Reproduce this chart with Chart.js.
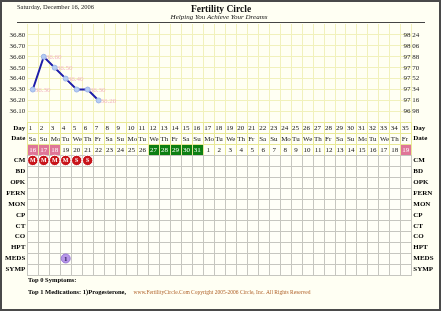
<!DOCTYPE html>
<html lang="en">
<head>
    <meta charset="UTF-8">
    <title>Fertility Circle</title>
    <!-- Include Chart.js -->
    <script src="https://cdn.jsdelivr.net/npm/chart.js"></script>
    <style>
        html, body { margin: 0; padding: 0; background: #fffff3; }
        canvas { display: block; }
    </style>
</head>
<body>
    <canvas id="bbtChart" width="441" height="311"></canvas>

    <script>
        // cycle days, weekdays and calendar dates
        const days = ['1','2','3','4','5','6','7','8','9','10','11','12','13','14','15','16','17','18',
                      '19','20','21','22','23','24','25','26','27','28','29','30','31','32','33','34','35'];
        const weekdays = ['Sa','Su','Mo','Tu','We','Th','Fr','Sa','Su','Mo','Tu','We','Th','Fr',
                          'Sa','Su','Mo','Tu','We','Th','Fr','Sa','Su','Mo','Tu','We','Th','Fr',
                          'Sa','Su','Mo','Tu','We','Th','Fr'];
        const dates = ['16','17','18','19','20','21','22','23','24','25','26','27','28','29','30','31',
                       '1','2','3','4','5','6','7','8','9','10','11','12','13','14','15','16','17','18','19'];
        const periodDays = [1, 2, 3, 35];          // pink date cells
        const greenDays = [12, 13, 14, 15, 16];    // green date cells

        // temperatures (Celsius) for the first days
        const tempsC = [36.30, 36.60, 36.50, 36.40, 36.30, 36.30, 36.20];
        const ticksC = [36.80, 36.70, 36.60, 36.50, 36.40, 36.30, 36.20, 36.10];
        const ticksF = [98.24, 98.06, 97.88, 97.70, 97.52, 97.34, 97.16, 96.98];

        // table rows
        const rowLabels = ['Day','Date','','CM','BD','OPK','FERN','MON','CP','CT','CO','HPT','MEDS','SYMP'];
        const cmDays = [1, 2, 3, 4, 5, 6];
        const cmMarks = ['M','M','M','M','S','S'];
        const medDays = [4];
        const medCounts = ['1'];

        const serif = '"Liberation Serif", "Times New Roman", serif';

        function crisp(v) { return Math.round(v) + 0.5; }

        // background, header, footer and frame
        const pagePlugin = {
            id: 'page',
            beforeDraw(chart) {
                const ctx = chart.ctx;
                ctx.save();
                ctx.fillStyle = '#fffff3';
                ctx.fillRect(0, 0, chart.width, chart.height);

                ctx.fillStyle = '#222';
                ctx.textBaseline = 'middle';
                ctx.textAlign = 'left';
                ctx.font = '6.5px ' + serif;
                ctx.fillText('Saturday, December 16, 2006', 17, 7);

                ctx.textAlign = 'center';
                ctx.font = 'bold 9.5px ' + serif;
                ctx.fillStyle = '#111';
                ctx.fillText('Fertility Circle', 221, 10);
                ctx.font = 'italic 7px ' + serif;
                ctx.fillText('Helping You Achieve Your Dreams', 219, 17.5);

                ctx.strokeStyle = '#444';
                ctx.lineWidth = 1;
                ctx.beginPath();
                ctx.moveTo(17, 22.5);
                ctx.lineTo(425, 22.5);
                ctx.stroke();

                // footer
                ctx.textAlign = 'left';
                ctx.fillStyle = '#000';
                ctx.font = 'bold 6.5px ' + serif;
                ctx.fillText('Top 0 Symptoms:', 28, 280.5);
                ctx.fillText('Top 1 Medications: 1)Progesterone,', 28, 292);
                ctx.textAlign = 'center';
                ctx.fillStyle = '#b0622a';
                ctx.font = '5.5px ' + serif;
                ctx.fillText('www.FertilityCircle.Com Copyright 2005-2006 Circle, Inc. All Rights Reserved', 222, 293);

                // outer frame
                ctx.strokeStyle = '#4a4a4a';
                ctx.lineWidth = 2;
                ctx.strokeRect(1, 1, chart.width - 2, chart.height - 2);
                ctx.restore();
            },
            // table and temperature grid, drawn from the scales
            beforeDatasetsDraw(chart) {
                const ctx = chart.ctx;
                const x = chart.scales.x;
                const y = chart.scales.y;
                const rows = chart.scales.rows;
                const colW = x.getPixelForValue(1) - x.getPixelForValue(0);
                const rowH = rows.getPixelForValue(1) - rows.getPixelForValue(0);
                ctx.save();

                // vertical grid over temperature area
                ctx.strokeStyle = '#f1f1bc';
                ctx.lineWidth = 1;
                for (let i = 0; i <= days.length; i++) {
                    const px = crisp(x.getPixelForValue(i) - colW / 2);
                    ctx.beginPath();
                    ctx.moveTo(px, y.top);
                    ctx.lineTo(px, y.bottom);
                    ctx.stroke();
                }

                ctx.textBaseline = 'middle';
                for (let r = 0; r < rowLabels.length; r++) {
                    const top = rows.getPixelForValue(r) - rowH / 2;
                    for (let i = 0; i < days.length; i++) {
                        const left = x.getPixelForValue(i) - colW / 2;
                        const L = crisp(left), T = crisp(top);
                        const W = Math.round(left + colW) - Math.round(left);
                        const H = Math.round(top + rowH) - Math.round(top);
                        ctx.fillStyle = '#fffff8';
                        if (r === 2 && periodDays.includes(i + 1)) ctx.fillStyle = '#df7698';
                        if (r === 2 && greenDays.includes(i + 1)) ctx.fillStyle = '#0d7f12';
                        ctx.fillRect(L - 0.5, T - 0.5, W, H);
                        ctx.strokeStyle = r < 3 ? '#e8e896' : '#c6c6c0';
                        ctx.strokeRect(L, T, W, H);

                        ctx.font = '7px ' + serif;
                        ctx.fillStyle = '#111';
                        ctx.textAlign = 'left';
                        if (r === 0) ctx.fillText(days[i], left + 1.5, top + rowH / 2 + 0.5);
                        if (r === 1) ctx.fillText(weekdays[i], left + 1.5, top + rowH / 2 + 0.5);
                        if (r === 2) {
                            if (periodDays.includes(i + 1) || greenDays.includes(i + 1)) ctx.fillStyle = '#fff';
                            ctx.textAlign = 'center';
                            ctx.fillText(dates[i], left + colW / 2, top + rowH / 2 + 0.5);
                        }
                    }
                }

                // CM markers
                const cmY = rows.getPixelForValue(3);
                cmDays.forEach((d, k) => {
                    const cx = x.getPixelForValue(d - 1);
                    ctx.beginPath();
                    ctx.arc(cx, cmY, 5.2, 0, Math.PI * 2);
                    ctx.fillStyle = '#c8141a';
                    ctx.fill();
                    ctx.strokeStyle = '#fff';
                    ctx.lineWidth = 1;
                    ctx.stroke();
                    ctx.fillStyle = '#fff';
                    ctx.font = 'bold 6px ' + serif;
                    ctx.textAlign = 'center';
                    ctx.fillText(cmMarks[k], cx, cmY + 0.5);
                });

                // medications
                const medY = rows.getPixelForValue(12);
                medDays.forEach((d, k) => {
                    const cx = x.getPixelForValue(d - 1);
                    ctx.beginPath();
                    ctx.arc(cx, medY, 4.5, 0, Math.PI * 2);
                    ctx.fillStyle = '#b796e8';
                    ctx.fill();
                    ctx.strokeStyle = '#9a78d8';
                    ctx.stroke();
                    ctx.fillStyle = '#2a1a55';
                    ctx.font = 'bold 7px ' + serif;
                    ctx.textAlign = 'center';
                    ctx.fillText(medCounts[k], cx, medY + 0.5);
                });
                ctx.restore();
            },
            // pale value labels beside the points
            afterDatasetsDraw(chart) {
                const ctx = chart.ctx;
                const meta = chart.getDatasetMeta(0);
                ctx.save();
                ctx.font = '7px ' + serif;
                ctx.fillStyle = '#f2b6c2';
                ctx.textAlign = 'left';
                ctx.textBaseline = 'middle';
                meta.data.forEach((pt, i) => {
                    if (i < tempsC.length - 1 && tempsC[i + 1] === tempsC[i]) return;
                    ctx.fillText(tempsC[i].toFixed(2), pt.x + 2, pt.y + 0.5);
                });
                ctx.restore();
            }
        };

        const tickFont = { family: serif, size: 7 };
        const rowFont = { family: serif, size: 7, weight: 'bold' };

        new Chart(document.getElementById('bbtChart'), {
            type: 'line',
            data: {
                labels: days,
                datasets: [{
                    label: 'BBT',
                    data: tempsC,
                    xAxisID: 'x',
                    yAxisID: 'y',
                    borderColor: '#1d1daa',
                    borderWidth: 2,
                    pointRadius: 2.5,
                    pointBackgroundColor: '#b4cbf2',
                    pointBorderColor: '#9db6ea',
                    pointBorderWidth: 1,
                    tension: 0
                }]
            },
            options: {
                responsive: false,
                animation: false,
                devicePixelRatio: 1,
                layout: { padding: { left: 0, right: 0, top: 24, bottom: 36.2 } },
                plugins: { legend: { display: false }, tooltip: { enabled: false } },
                scales: {
                    x: { type: 'category', display: false, offset: true },
                    rows: {
                        type: 'category', labels: rowLabels, position: 'left', stack: 'left', stackWeight: 152.5,
                        offset: true, grid: { display: false, drawTicks: false }, border: { display: false },
                        ticks: { font: rowFont, color: '#000', padding: 2, autoSkip: false },
                        afterFit: s => { s.width = 27.3; }
                    },
                    y: {
                        type: 'linear', position: 'left', stack: 'left', stackWeight: 98.3, min: 36.0, max: 36.9,
                        grid: { color: '#f1f1bc', drawTicks: false }, border: { display: false },
                        ticks: { font: tickFont, color: '#222', padding: 2, autoSkip: false, callback: v => v.toFixed(2) },
                        afterBuildTicks: s => { s.ticks = ticksC.map(v => ({ value: v })); },
                        afterFit: s => { s.width = 27.3; }
                    },
                    yF: {
                        type: 'linear', position: 'right', stack: 'right', stackWeight: 98.3, min: 96.8, max: 98.42,
                        grid: { display: false, drawTicks: false }, border: { display: false },
                        ticks: { font: tickFont, color: '#222', mirror: true, padding: 8, autoSkip: false, callback: v => v.toFixed(2) },
                        afterBuildTicks: s => { s.ticks = ticksF.map(v => ({ value: v })); },
                        afterFit: s => { s.width = 29.7; }
                    },
                    rowsR: {
                        type: 'category', labels: rowLabels, position: 'right', stack: 'right', stackWeight: 152.5,
                        offset: true, grid: { display: false, drawTicks: false }, border: { display: false },
                        ticks: { font: rowFont, color: '#000', padding: 2, autoSkip: false },
                        afterFit: s => { s.width = 29.7; }
                    }
                }
            },
            plugins: [pagePlugin]
        });
    </script>
</body>
</html>
